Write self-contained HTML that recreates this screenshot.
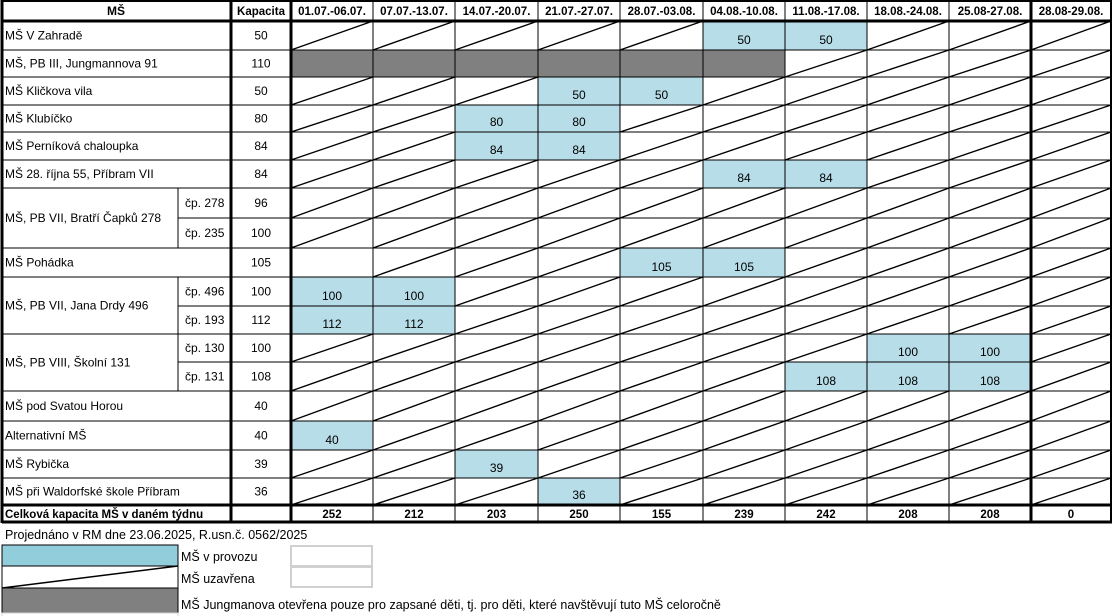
<!DOCTYPE html>
<html><head><meta charset="utf-8">
<style>
html,body{margin:0;padding:0;background:#fff;}
svg{display:block;font-family:"Liberation Sans",sans-serif;}
</style></head>
<body>
<svg id="tbl" width="1113" height="616" viewBox="0 0 1113 616" xmlns="http://www.w3.org/2000/svg"></svg>
<script>
const weeks = ["01.07.-06.07.","07.07.-13.07.","14.07.-20.07.","21.07.-27.07.","28.07.-03.08.","04.08.-10.08.","11.08.-17.08.","18.08.-24.08.","25.08-27.08.","28.08-29.08."];
const schoolNames = ["MŠ V Zahradě","MŠ, PB III, Jungmannova 91","MŠ Kličkova vila","MŠ Klubíčko","MŠ Perníková chaloupka","MŠ 28. října 55, Příbram VII","","","MŠ Pohádka","","","","","MŠ pod Svatou Horou","Alternativní MŠ"," MŠ Rybička","MŠ při Waldorfské škole Příbram"];
const subLabels = ["","","","","","","čp. 278","čp. 235","","čp. 496","čp. 193","čp. 130","čp. 131","","","",""];
const groups = [{name:"MŠ, PB VII, Bratří Čapků 278",from:6,to:7},{name:"MŠ, PB VII, Jana Drdy 496",from:9,to:10},{name:"MŠ, PB VIII, Školní 131",from:11,to:12}];
const capacities = [50,110,50,80,84,84,96,100,105,100,112,100,108,40,40,39,36];
// b = open (blue), c = closed (diagonal), g = grey, e = empty
const status = [
"ccccc bbccc","gggggg cccc","cccbbccccc","ccbbcccccc","ccbbcccccc","cccccbbccc",
"cccccccccc","cccccccccc","ecccbbcccc","bbcccccccc","bbcccccccc","cccccccbbc",
"ccccccbbbc","cccccccccc","bccccccccc","ccbccccccc","cccbcccccc"].map(s=>s.replace(/ /g,""));
const totals = [252,212,203,250,155,239,242,208,208,0];

const NS="http://www.w3.org/2000/svg";
const svg=document.getElementById("tbl");
function el(tag,attrs,parent){const e=document.createElementNS(NS,tag);for(const k in attrs)e.setAttribute(k,attrs[k]);(parent||svg).appendChild(e);return e;}
const colX=[291,373,455,538,620,703,785,867,949,1031,1111];
const rowY=[21,50,77,105,132,160,188,218,248,277,306,334,362,391,421,450,478,505];
const totY=[505,522];
const L=2,SUB=178,CAP=231;

// cells
for(let r=0;r<status.length;r++){
  for(let c=0;c<weeks.length;c++){
    const s=status[r][c],x0=colX[c],x1=colX[c+1],y0=rowY[r],y1=rowY[r+1];
    if(s==="b"){
      const rect=el("rect",{x:x0,y:y0,width:x1-x0,height:y1-y0,fill:"#b7dde8"});
      
      
      const t=el("text",{x:(x0+x1)/2,y:y1-6,"text-anchor":"middle","font-size":"12",fill:"#000"});
      
      
      t.textContent=capacities[r];
    } else if(s==="g"){
      const rect=el("rect",{x:x0,y:y0,width:x1-x0,height:y1-y0,fill:"#808080"});
      
      
    } else if(s==="c"){
      const ln=el("line",{x1:x0,y1:y1,x2:x1,y2:y0,stroke:"#000","stroke-width":"1.4"});
      
      
    }
  }
}
// grid lines
for(let r=1;r<rowY.length-1;r++){
  const y=rowY[r];
  // horizontal across week columns and capacity
  el("line",{x1:CAP,y1:y,x2:1111,y2:y,stroke:"#000","stroke-width":"1"});
  // name area: skip inside groups main name column
  let inGroup=groups.find(g=>r>g.from&&r<=g.to);
  if(inGroup) el("line",{x1:SUB,y1:y,x2:CAP,y2:y,stroke:"#000","stroke-width":"1"});
  else el("line",{x1:L,y1:y,x2:CAP,y2:y,stroke:"#000","stroke-width":"1"});
}
for(let c=1;c<colX.length-1;c++){
  const w=(c===9)?3:1;
  el("line",{x1:colX[c],y1:1,x2:colX[c],y2:523,stroke:"#000","stroke-width":w});
}
// sub divider lines
groups.forEach(g=>{el("line",{x1:SUB,y1:rowY[g.from],x2:SUB,y2:rowY[g.to+1],stroke:"#000","stroke-width":"1"});});
// thick lines
el("line",{x1:CAP,y1:1,x2:CAP,y2:523,stroke:"#000","stroke-width":"3"});
el("line",{x1:291,y1:1,x2:291,y2:523,stroke:"#000","stroke-width":"3"});
el("line",{x1:L,y1:0,x2:L,y2:523,stroke:"#000","stroke-width":"3"});
el("line",{x1:1111,y1:1,x2:1111,y2:523,stroke:"#000","stroke-width":"2"});
el("line",{x1:L,y1:1,x2:1112,y2:1,stroke:"#000","stroke-width":"2"});
el("line",{x1:L,y1:21,x2:1112,y2:21,stroke:"#000","stroke-width":"3"});
el("line",{x1:L,y1:505,x2:1112,y2:505,stroke:"#000","stroke-width":"3"});
el("line",{x1:L,y1:522,x2:1112,y2:522,stroke:"#000","stroke-width":"3"});

// header
function txt(x,y,s,opts,name){const t=el("text",Object.assign({x:x,y:y,"font-size":"12",fill:"#000"},opts||{}));t.textContent=s;return t;}
txt(116,15,"MŠ",{"text-anchor":"middle","font-weight":"bold"},"header-school");
txt(261,15,"Kapacita",{"text-anchor":"middle","font-weight":"bold","font-size":"11.5"},"header-capacity");
weeks.forEach((w,i)=>{txt((colX[i]+colX[i+1])/2,15,w,{"text-anchor":"middle","font-weight":"bold","font-size":"11.5"},"header-week");});
// rows
for(let r=0;r<schoolNames.length;r++){
  const yc=(rowY[r]+rowY[r+1])/2+4;
  if(schoolNames[r]) txt(5,yc,schoolNames[r],{"xml:space":"preserve"},"school-name");
  if(subLabels[r]) txt(185,yc,subLabels[r],{},"building-label");
  txt(261,yc,String(capacities[r]),{"text-anchor":"middle"},"capacity-value");
}
groups.forEach(g=>{txt(5,(rowY[g.from]+rowY[g.to+1])/2+4,g.name,{},"school-group-name");});
// totals
txt(5,518,"Celková kapacita MŠ v daném týdnu",{"font-weight":"bold","font-size":"11.5"},"total-label");
totals.forEach((v,i)=>{txt((colX[i]+colX[i+1])/2,518,String(v),{"text-anchor":"middle","font-weight":"bold","font-size":"11.5"},"week-total");});

// legend
txt(5,539,"Projednáno v RM dne 23.06.2025, R.usn.č. 0562/2025",{"font-size":"12.5"},"approval-note");
let r1=el("rect",{x:2,y:545,width:176,height:21,fill:"#92cddc",stroke:"#000","stroke-width":"1"});

let r2=el("rect",{x:2,y:566,width:176,height:22,fill:"#fff",stroke:"#000","stroke-width":"1"});

el("line",{x1:2,y1:588,x2:178,y2:566,stroke:"#000","stroke-width":"1.4"});
let r3=el("rect",{x:2,y:588,width:176,height:25,fill:"#808080",stroke:"#000","stroke-width":"1"});

el("rect",{x:2,y:613,width:176,height:6,fill:"#fff",stroke:"#d0d0d0","stroke-width":"1"});
el("rect",{x:291,y:546,width:81,height:20,fill:"#fff",stroke:"#d0d0d0","stroke-width":"2"});
el("rect",{x:291,y:567,width:81,height:20,fill:"#fff",stroke:"#d0d0d0","stroke-width":"2"});
txt(181,561,"MŠ v provozu",{"font-size":"12.5"},"legend-open-label");
txt(181,583,"MŠ uzavřena",{"font-size":"12.5"},"legend-closed-label");
txt(181,609,"MŠ Jungmanova otevřena pouze pro zapsané děti, tj. pro děti, které navštěvují tuto MŠ celoročně",{"font-size":"12.5"},"legend-limited-label");
</script>
</body></html>
